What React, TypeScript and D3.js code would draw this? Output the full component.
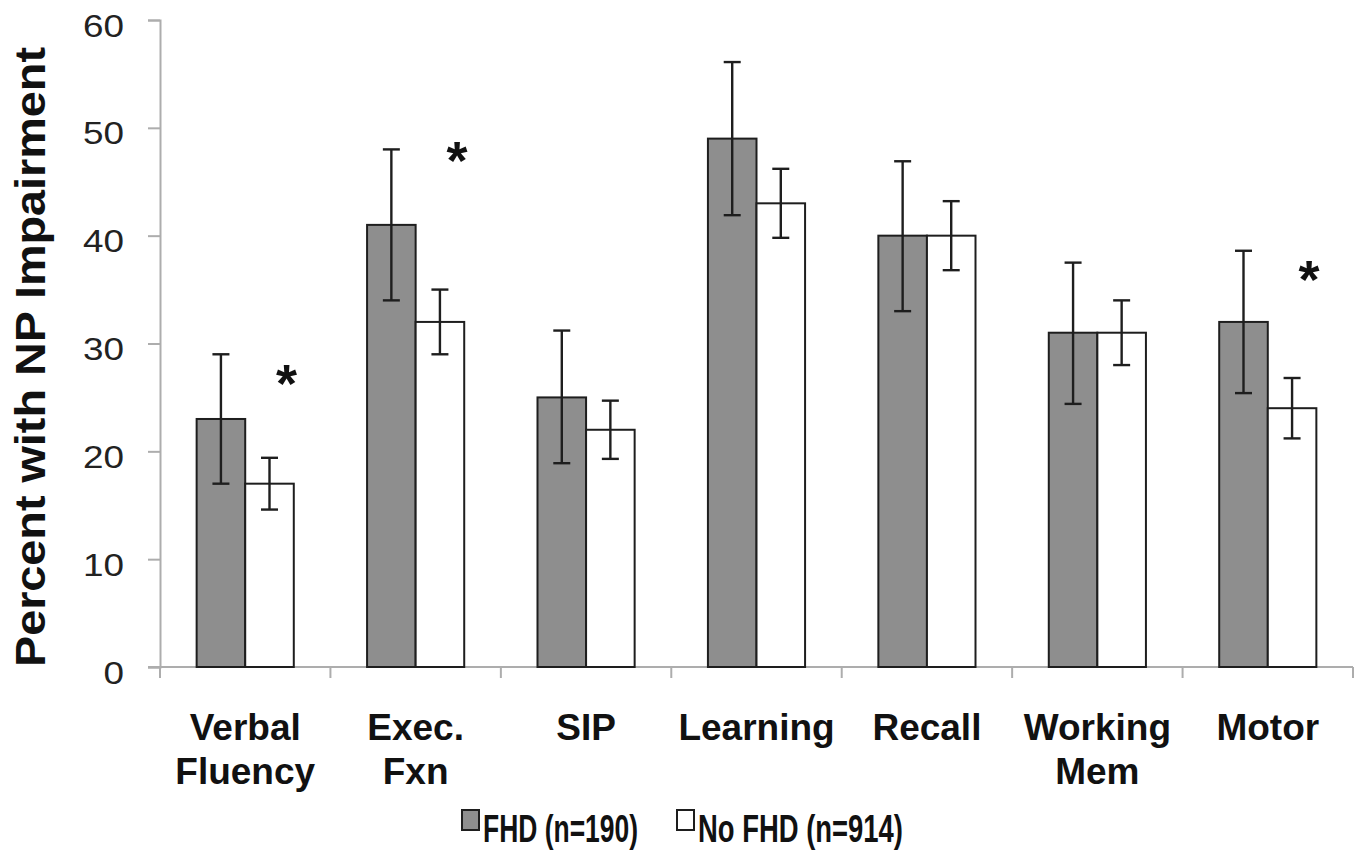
import React, { useRef, useEffect } from "react";
import * as d3 from "d3";

const categories = ["Verbal Fluency", "Exec. Fxn", "SIP", "Learning", "Recall", "Working Mem", "Motor"];
const categoryLines = [["Verbal", "Fluency"], ["Exec.", "Fxn"], ["SIP"], ["Learning"], ["Recall"], ["Working", "Mem"], ["Motor"]];

const fhdValues = [23, 41, 25, 49, 40, 31, 32];
const fhdLow = [17, 34, 18.9, 41.9, 33, 24.4, 25.4];
const fhdHigh = [29, 48, 31.2, 56.1, 46.9, 37.5, 38.6];

const noFhdValues = [17, 32, 22, 43, 40, 31, 24];
const noFhdLow = [14.6, 29, 19.3, 39.8, 36.8, 28, 21.2];
const noFhdHigh = [19.4, 35, 24.7, 46.2, 43.2, 34, 26.8];

// significance stars: category + height in percent
const starCategories = ["Verbal Fluency", "Exec. Fxn", "Motor"];
const starValues = [27.1, 47.8, 36.7];

const yTicks = [0, 10, 20, 30, 40, 50, 60];
const seriesNames = ["FHD (n=190)", "No FHD (n=914)"];

const App = () => {
  const svgRef = useRef<SVGSVGElement>(null);

  useEffect(() => {
    const w = 1361;
    const h = 861;
    const svg = d3.select(svgRef.current).attr("width", w).attr("height", h);
    svg.selectAll("*").remove();

    const x = d3.scaleBand().domain(categories).range([160, 1353]).paddingInner(0).paddingOuter(0);
    const y = d3.scaleLinear().domain([0, 60]).range([667, 20]);
    const bw = x.bandwidth() * 0.285;
    const center = (c: string) => (x(c) as number) + x.bandwidth() / 2;

    const axisColor = "#adadad";
    const ink = "#1e1e1e";

    // y axis
    const yAxis = svg.append("g").attr("transform", "translate(160,0)")
      .call(d3.axisLeft(y).tickValues(yTicks).tickSize(12).tickFormat(d3.format("d")));
    yAxis.select(".domain").attr("stroke", axisColor).attr("stroke-width", 2);
    yAxis.selectAll(".tick line").attr("stroke", axisColor).attr("stroke-width", 2);
    yAxis.selectAll<SVGTextElement, number>(".tick text")
      .attr("x", -36)
      .attr("dy", "0.52em")
      .attr("fill", "#222")
      .attr("font-family", "Liberation Sans, Arial, sans-serif")
      .attr("font-size", 31)
      .attr("textLength", (d) => String(d).length * 20.5)
      .attr("lengthAdjust", "spacingAndGlyphs");

    // x axis
    const ticksX = categories.map((c) => x(c) as number).concat([x.range()[1]]);
    svg.append("line").attr("x1", 148).attr("x2", 1353).attr("y1", y(0)).attr("y2", y(0))
      .attr("stroke", axisColor).attr("stroke-width", 2);
    svg.append("g").selectAll("line").data(ticksX).join("line")
      .attr("x1", (d) => d).attr("x2", (d) => d)
      .attr("y1", y(0)).attr("y2", y(0) + 11)
      .attr("stroke", axisColor).attr("stroke-width", 2);

    // bars
    const series = [
      { vals: fhdValues, lo: fhdLow, hi: fhdHigh, fill: "#8e8e8e", off: -bw },
      { vals: noFhdValues, lo: noFhdLow, hi: noFhdHigh, fill: "#ffffff", off: 0 },
    ];
    series.forEach((s) => {
      svg.append("g").selectAll("rect").data(categories).join("rect")
        .attr("x", (c) => center(c) + s.off)
        .attr("y", (c, i) => y(s.vals[i]))
        .attr("width", bw)
        .attr("height", (c, i) => y(0) - y(s.vals[i]))
        .attr("fill", s.fill)
        .attr("stroke", ink)
        .attr("stroke-width", 2);
    });

    // error bars
    series.forEach((s) => {
      const g = svg.append("g").attr("stroke", ink).attr("stroke-width", 2.4);
      categories.forEach((c, i) => {
        const cx = center(c) + s.off + bw / 2;
        g.append("line").attr("x1", cx).attr("x2", cx).attr("y1", y(s.lo[i])).attr("y2", y(s.hi[i]));
        [s.lo[i], s.hi[i]].forEach((v) => {
          g.append("line").attr("x1", cx - 8.5).attr("x2", cx + 8.5).attr("y1", y(v)).attr("y2", y(v));
        });
      });
    });

    // stars
    svg.append("g").selectAll("text").data(starCategories).join("text")
      .attr("x", (c) => center(c) + bw * 0.85)
      .attr("y", (c, i) => y(starValues[i]) + 27)
      .attr("text-anchor", "middle")
      .attr("font-family", "Liberation Sans, Arial, sans-serif")
      .attr("font-weight", "bold")
      .attr("font-size", 54)
      .attr("fill", "#111")
      .text("*");

    // category labels
    const labels = svg.append("g")
      .attr("font-family", "Liberation Sans, Arial, sans-serif")
      .attr("font-weight", "bold")
      .attr("font-size", 37)
      .attr("fill", "#111")
      .attr("text-anchor", "middle");
    categories.forEach((c, i) => {
      categoryLines[i].forEach((line, j) => {
        labels.append("text").attr("x", center(c)).attr("y", 740 + j * 44).text(line);
      });
    });

    // y title
    svg.append("text")
      .attr("transform", "translate(45,357) rotate(-90)")
      .attr("text-anchor", "middle")
      .attr("font-family", "Liberation Sans, Arial, sans-serif")
      .attr("font-weight", "bold")
      .attr("font-size", 42)
      .attr("fill", "#111")
      .attr("textLength", 620)
      .attr("lengthAdjust", "spacingAndGlyphs")
      .text("Percent with NP Impairment");

    // legend
    const legendX = [462, 677];
    const legendLen = [155, 205];
    const legendFill = ["#8e8e8e", "#ffffff"];
    seriesNames.forEach((name, i) => {
      svg.append("rect")
        .attr("x", legendX[i]).attr("y", 810)
        .attr("width", 17).attr("height", 20)
        .attr("fill", legendFill[i]).attr("stroke", ink).attr("stroke-width", 2);
      svg.append("text")
        .attr("x", legendX[i] + 21).attr("y", 842)
        .attr("font-family", "Liberation Sans, Arial, sans-serif")
        .attr("font-weight", "bold")
        .attr("font-size", 39)
        .attr("fill", "#111")
        .attr("textLength", legendLen[i])
        .attr("lengthAdjust", "spacingAndGlyphs")
        .text(name);
    });
  }, []);

  return (
    <div style={{ position: "absolute", left: 0, top: 0, background: "#fff" }}>
      <svg ref={svgRef} style={{ display: "block" }}></svg>
    </div>
  );
};

export default App;
